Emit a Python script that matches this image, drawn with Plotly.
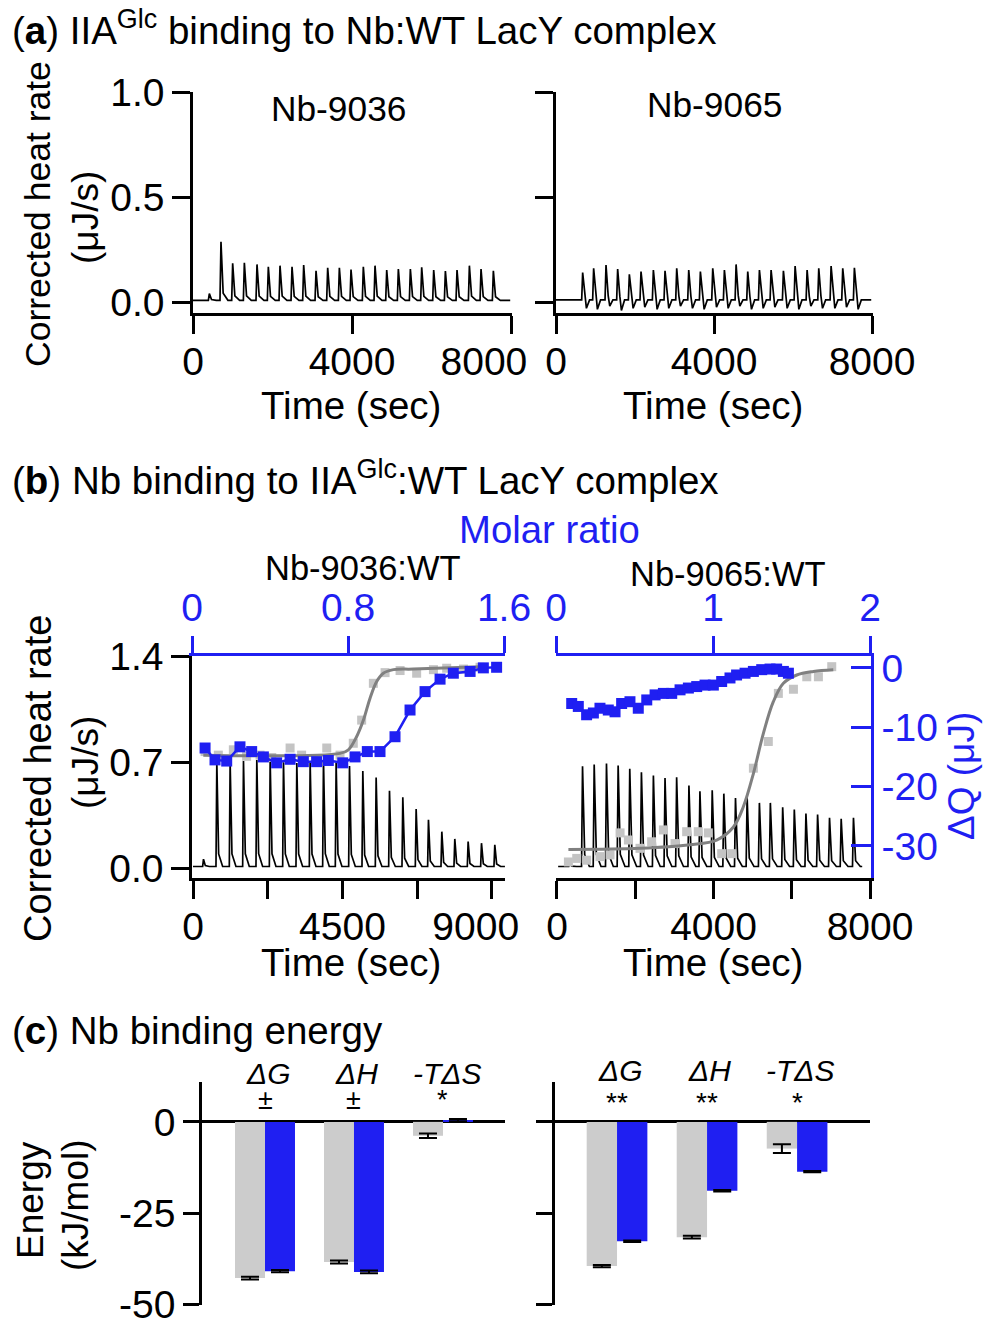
import plotly.graph_objects as go

W, H = 984, 1321
def px(x): return x / W
def py(y): return 1 - y / H

BLUE = '#1f1ff2'
GRAY_BAR = '#cccccc'
GRAY_PT = '#c4c4c4'
GRAY_FIT = '#808080'
FONT = 'Arial, "Liberation Sans", Helvetica, sans-serif'
TICK = 39
NB = '\u00a0'

# ---------------- Panel (a): IIAGlc into Nb:WT LacY ----------------
a1_times = [386, 679, 973, 1267, 1585, 1870, 2164, 2466, 2759, 3070, 3363, 3657, 3950,
            4260, 4554, 4848, 5141, 5443, 5728, 6030, 6324, 6617, 6928, 7221, 7531]
a1_peaks = [0.04, 0.287, 0.184, 0.187, 0.179, 0.168, 0.173, 0.168, 0.176, 0.149, 0.163, 0.163,
            0.155, 0.168, 0.173, 0.152, 0.157, 0.157, 0.165, 0.152, 0.147, 0.152, 0.173, 0.157, 0.149]
a1_base = 0.008

a2_times = [650, 928, 1241, 1536, 1832, 2127, 2440, 2735, 3031, 3335, 3630, 3943, 4238,
            4534, 4829, 5125, 5420, 5732, 6028, 6332, 6627, 6939, 7234, 7529]
a2_peaks = [0.140, 0.160, 0.176, 0.157, 0.132, 0.145, 0.152, 0.149, 0.160, 0.152, 0.145, 0.160,
            0.152, 0.179, 0.145, 0.152, 0.152, 0.149, 0.171, 0.152, 0.160, 0.171, 0.160, 0.163]
a2_dips = [-0.03, -0.035, -0.02, -0.04, -0.03, -0.025, -0.035, -0.03, -0.02, -0.03, -0.035, -0.025,
           -0.03, -0.02, -0.035, -0.03, -0.025, -0.03, -0.035, -0.02, -0.03, -0.03, -0.025, -0.035]
a2_base = 0.01

# ---------------- Panel (b): Nb into IIAGlc:WT LacY ----------------
b1_times = [291, 692, 1093, 1495, 1896, 2298, 2699, 3100, 3502, 3903, 4284, 4686, 5087,
            5488, 5890, 6291, 6692, 7063, 7465, 7856, 8257, 8659, 9060]
b1_peaks = [0.058, 0.699, 0.699, 0.706, 0.713, 0.706, 0.699, 0.694, 0.694, 0.713, 0.694, 0.673,
            0.640, 0.597, 0.510, 0.467, 0.390, 0.319, 0.240, 0.192, 0.175, 0.164, 0.153]
b1_base = 0.01

b2_times = [300, 628, 926, 1240, 1538, 1835, 2133, 2439, 2736, 3033, 3347, 3628, 3942, 4239,
            4537, 4834, 5148, 5428, 5743, 6040, 6337, 6635, 6940, 7238, 7552]
b2_peaks = [0.03, 0.672, 0.683, 0.690, 0.677, 0.655, 0.633, 0.611, 0.595, 0.600, 0.544, 0.507,
            0.513, 0.491, 0.462, 0.470, 0.430, 0.430, 0.401, 0.386, 0.359, 0.353, 0.331, 0.325, 0.331]
b2_base = 0.01

# molar ratio / integrated heat (uJ)
b1_mr_blue = [0.067, 0.118, 0.178, 0.246, 0.306, 0.366, 0.434, 0.503, 0.571, 0.639, 0.699, 0.773,
              0.836, 0.899, 0.964, 1.041, 1.118, 1.195, 1.272, 1.340, 1.426, 1.494, 1.562]
b1_dq_blue = [-13.5, -15.5, -15.7, -13.3, -14.1, -15.0, -16.0, -15.4, -15.8, -15.8, -15.6, -16.0,
              -15.0, -14.1, -14.1, -11.6, -7.1, -4.0, -1.9, -0.9, -0.6, 0.0, 0.1]
b1_mr_gray = [0.067, 0.135, 0.212, 0.280, 0.349, 0.409, 0.503, 0.562, 0.691, 0.759, 0.827, 0.870,
              0.930, 0.990, 1.067, 1.152, 1.238, 1.306, 1.392, 1.477]
b1_dq_gray = [-14.1, -14.7, -13.8, -14.9, -14.7, -15.1, -13.5, -14.7, -13.5, -14.7, -12.7, -8.8,
              -2.6, -0.8, -0.45, -0.9, -0.3, -0.06, -0.2, 0.1]
b1_mr_fit = [0.058, 0.759, 0.802, 0.844, 0.879, 0.913, 0.947, 0.981, 1.033, 1.135, 1.477]
b1_dq_fit = [-14.7, -14.4, -13.8, -11.6, -8.8, -5.1, -2.3, -0.9, -0.3, -0.2, 0.2]

b2_mr_blue = [0.100, 0.142, 0.195, 0.238, 0.280, 0.333, 0.376, 0.418, 0.471, 0.524, 0.578, 0.631,
              0.684, 0.737, 0.790, 0.843, 0.896, 0.949, 1.002, 1.055, 1.108, 1.150, 1.204, 1.257,
              1.310, 1.363, 1.405, 1.448, 1.480]
b2_dq_blue = [-6.0, -6.5, -7.9, -7.6, -6.8, -7.1, -7.4, -6.0, -5.7, -6.8, -5.4, -4.55, -4.3, -4.3,
              -3.7, -3.4, -3.15, -2.9, -2.9, -2.3, -1.7, -1.2, -0.9, -0.6, -0.3, -0.2, -0.2, -0.6, -0.9]
b2_mr_gray = [0.079, 0.132, 0.195, 0.280, 0.344, 0.408, 0.461, 0.535, 0.609, 0.684, 0.758, 0.832,
              0.906, 0.970, 1.055, 1.119, 1.257, 1.352, 1.416, 1.512, 1.597, 1.671, 1.756]
b2_dq_gray = [-32.7, -32.1, -32.4, -31.8, -31.5, -27.8, -29.0, -30.4, -29.3, -27.3, -29.6, -27.6,
              -27.6, -27.8, -31.3, -31.3, -16.9, -12.4, -4.3, -3.6, -1.5, -1.5, 0.2]
b2_mr_fit = [0.079, 0.535, 0.853, 1.023, 1.130, 1.193, 1.257, 1.321, 1.384, 1.448, 1.533, 1.639, 1.766]
b2_dq_fit = [-30.6, -30.4, -29.8, -29.0, -26.8, -23.4, -17.8, -11.0, -5.7, -2.6, -1.2, -0.6, -0.3]

# ---------------- Panel (c): energies (kJ/mol) ----------------
c_terms = ['ΔG', 'ΔH', '-TΔS']
c1_gray = [-42.7, -38.3, -3.8]
c1_gray_err = [0.4, 0.4, 0.6]
c1_blue = [-40.8, -41.0, 0.5]
c1_blue_err = [0.3, 0.4, 0.3]
c1_sig = ['±', '±', '*']
c2_gray = [-39.4, -31.5, -7.3]
c2_gray_err = [0.3, 0.4, 1.2]
c2_blue = [-32.6, -18.8, -13.6]
c2_blue_err = [0.2, 0.2, 0.2]
c2_sig = ['**', '**', '*']


def itc_trace(times, peaks, base, t0, t1, dips=None):
    xs, ys = [t0], [base]
    for i, (t, p) in enumerate(zip(times, peaks)):
        xs += [t, t + 25, t + 80]
        ys += [base, p, base + 0.12 * (p - base)]
        if dips:
            xs.append(t + 120); ys.append(dips[i])
        xs.append(t + 200); ys.append(base)
    xs.append(t1); ys.append(base)
    return xs, ys


fig = go.Figure()
line_k = dict(color='black', width=1.7)

x, y = itc_trace(a1_times, a1_peaks, a1_base, 0, 7980)
fig.add_trace(go.Scatter(x=x, y=y, mode='lines', line=line_k, xaxis='x', yaxis='y'))
x, y = itc_trace(a2_times, a2_peaks, a2_base, 0, 7980, a2_dips)
fig.add_trace(go.Scatter(x=x, y=y, mode='lines', line=line_k, xaxis='x2', yaxis='y2'))
x, y = itc_trace(b1_times, b1_peaks, b1_base, 0, 9390)
fig.add_trace(go.Scatter(x=x, y=y, mode='lines', line=line_k, xaxis='x3', yaxis='y3'))
x, y = itc_trace(b2_times, b2_peaks, b2_base, 30, 7800)
fig.add_trace(go.Scatter(x=x, y=y, mode='lines', line=line_k, xaxis='x5', yaxis='y5'))

mk_gray = dict(symbol='square', size=9, color=GRAY_PT)
mk_blue = dict(symbol='square', size=11, color=BLUE)
# left (b)
fig.add_trace(go.Scatter(x=b1_mr_gray, y=b1_dq_gray, mode='markers', marker=mk_gray, xaxis='x4', yaxis='y4'))
fig.add_trace(go.Scatter(x=b1_mr_fit, y=b1_dq_fit, mode='lines', line=dict(color=GRAY_FIT, width=3, shape='spline'), xaxis='x4', yaxis='y4'))
fig.add_trace(go.Scatter(x=b1_mr_blue, y=b1_dq_blue, mode='lines+markers', marker=mk_blue, line=dict(color=BLUE, width=2.5), xaxis='x4', yaxis='y4'))
# right (b)
fig.add_trace(go.Scatter(x=b2_mr_gray, y=b2_dq_gray, mode='markers', marker=mk_gray, xaxis='x6', yaxis='y6'))
fig.add_trace(go.Scatter(x=b2_mr_fit, y=b2_dq_fit, mode='lines', line=dict(color=GRAY_FIT, width=3, shape='spline'), xaxis='x6', yaxis='y6'))
fig.add_trace(go.Scatter(x=b2_mr_blue, y=b2_dq_blue, mode='lines+markers', marker=mk_blue, line=dict(color=BLUE, width=2.5), xaxis='x6', yaxis='y6'))

# bars (c)
pos = list(range(len(c_terms)))
err = lambda a: dict(type='data', array=a, color='black', thickness=2, width=9)
fig.add_trace(go.Bar(x=pos, y=c1_gray, marker=dict(color=GRAY_BAR, line=dict(width=0)), error_y=err(c1_gray_err), xaxis='x7', yaxis='y7'))
fig.add_trace(go.Bar(x=pos, y=c1_blue, marker=dict(color=BLUE, line=dict(width=0)), error_y=err(c1_blue_err), xaxis='x7', yaxis='y7'))
fig.add_trace(go.Bar(x=pos, y=c2_gray, marker=dict(color=GRAY_BAR, line=dict(width=0)), error_y=err(c2_gray_err), xaxis='x8', yaxis='y8'))
fig.add_trace(go.Bar(x=pos, y=c2_blue, marker=dict(color=BLUE, line=dict(width=0)), error_y=err(c2_blue_err), xaxis='x8', yaxis='y8'))

base_ax = dict(showline=True, linecolor='black', linewidth=2.5, ticks='outside', ticklen=18,
               tickwidth=2.5, tickcolor='black', showgrid=False, zeroline=False, automargin=False,
               ticklabeloverflow='allow',
               tickfont=dict(size=TICK, color='black', family=FONT))
xb_ax = dict(base_ax, ticklabelstandoff=-6)
blue_ax = dict(base_ax, linecolor=BLUE, tickcolor=BLUE, tickfont=dict(size=TICK, color=BLUE, family=FONT))
minor_k = lambda vals: dict(tickmode='array', tickvals=vals, ticks='outside', ticklen=18,
                            tickwidth=2.5, tickcolor='black', showgrid=False)

ya_dom = [py(313), py(92)]
yb_dom = [py(878), py(656)]
yc_dom = [py(1305), py(1082)]

layout = dict(
    width=W, height=H, autosize=False, showlegend=False,
    margin=dict(l=0, r=0, t=0, b=0, autoexpand=False), paper_bgcolor='white', plot_bgcolor='rgba(0,0,0,0)',
    font=dict(family=FONT, color='black'),
    barmode='group', bargap=0.326, bargroupgap=0,
    xaxis=dict(xb_ax, domain=[px(193), px(512)], range=[0, 8025], anchor='y',
               tickvals=[0, 4000, 8000], ticktext=['0', '4000', '8000' + NB * 5]),
    yaxis=dict(base_ax, domain=ya_dom, range=[-0.0524, 1.0], anchor='x',
               tickvals=[0, 0.5, 1.0], ticktext=['0.0', '0.5', '1.0']),
    xaxis2=dict(xb_ax, domain=[px(556), px(873)], range=[0, 8025], anchor='y2',
                tickvals=[0, 4000, 8000], ticktext=['0', '4000', '8000']),
    yaxis2=dict(base_ax, domain=ya_dom, range=[-0.0524, 1.0], anchor='x2',
                tickvals=[0, 0.5, 1.0], showticklabels=False),
    xaxis3=dict(xb_ax, domain=[px(192), px(505)], range=[-30, 9392], anchor='y3',
                tickvals=[0, 4500, 9000], ticktext=['0', '4500', '9000' + NB * 3],
                minor=minor_k([2250, 6750])),
    yaxis3=dict(base_ax, domain=yb_dom, range=[-0.066, 1.4], anchor='x3',
                tickvals=[0, 0.7, 1.4], ticktext=['0.0', '0.7', '1.4']),
    xaxis4=dict(blue_ax, overlaying='x3', side='top', anchor='y3', range=[0, 1.605],
                ticklen=17, tickvals=[0, 0.8, 1.6], ticktext=['0', '0.8', '1.6']),
    yaxis4=dict(overlaying='y3', anchor='x3', side='right', range=[-35.4, 2.0], visible=False),
    xaxis5=dict(xb_ax, domain=[px(556), px(871)], range=[-25, 8025], anchor='y5',
                tickvals=[0, 4000, 8000], ticktext=['0', '4000', '8000'],
                minor=minor_k([2000, 6000])),
    yaxis5=dict(domain=yb_dom, range=[-0.066, 1.4], anchor='x5', visible=False),
    xaxis6=dict(blue_ax, overlaying='x5', side='top', anchor='y5', range=[0, 2.006],
                ticklen=17, tickvals=[0, 1, 2], ticktext=['0', '1', '2']),
    yaxis6=dict(blue_ax, overlaying='y5', side='right', anchor='x5', range=[-35.4, 2.0],
                ticks='inside', ticklen=20, tickvals=[0, -10, -20, -30],
                ticktext=['0', '-10', '-20', '-30']),
    xaxis7=dict(domain=[px(202), px(505)], range=[-0.708, 2.697], anchor='y7', visible=False),
    yaxis7=dict(base_ax, domain=yc_dom, range=[-50.05, 10.9], anchor='x7', ticklen=16,
                tickvals=[0, -25, -50], ticktext=['0', '-25', '-50'],
                zeroline=True, zerolinecolor='black', zerolinewidth=2.5),
    xaxis8=dict(domain=[px(555), px(870)], range=[-0.689, 2.81], anchor='y8', visible=False),
    yaxis8=dict(base_ax, domain=yc_dom, range=[-50.05, 10.9], anchor='x8', ticklen=16,
                tickvals=[0, -25, -50], showticklabels=False,
                zeroline=True, zerolinecolor='black', zerolinewidth=2.5),
)
fig.update_layout(**layout)

ann = []
def A(text, x, y, size=38.5, color='black', angle=0, xanchor='center', yanchor='middle', xref='paper'):
    ann.append(dict(text=text, x=x, y=y, xref=xref, yref='paper', showarrow=False,
                    textangle=angle, xanchor=xanchor, yanchor=yanchor,
                    font=dict(size=size, color=color, family=FONT)))

A('(<b>a</b>) IIA<sup>Glc</sup> binding to Nb:WT LacY complex', px(10), py(28), xanchor='left')
A('(<b>b</b>) Nb binding to IIA<sup>Glc</sup>:WT LacY complex', px(10), py(478), xanchor='left')
A('(<b>c</b>) Nb binding energy', px(10), py(1030), xanchor='left')

A('Nb-9036', px(338), py(108), size=35.3)
A('Nb-9065', px(714), py(104), size=35.3)
A('Time (sec)', px(351), py(405))
A('Time (sec)', px(713), py(405))
A('Corrected heat rate', px(38), py(214), size=35.5, angle=-90)
A('(μJ/s)', px(85), py(218), size=37, angle=-90)

A('Molar ratio', px(549), py(530), color=BLUE, size=38.3)
A('Nb-9036:WT', px(363), py(568), size=34.5)
A('Nb-9065:WT', px(728), py(574), size=34.5)
A('Time (sec)', px(351), py(962))
A('Time (sec)', px(713), py(962))
A('Corrected heat rate', px(38), py(779), size=38, angle=-90)
A('(μJ/s)', px(85), py(763), size=37, angle=-90)
A('ΔQ (μJ)', px(962), py(776), color=BLUE, size=37, angle=-90)

A('Energy', px(30), py(1200), size=37, angle=-90)
A('(kJ/mol)', px(75), py(1205), size=37, angle=-90)

for i, t in enumerate(c_terms):
    A('<i>%s</i>' % t, pos[i] + (0.03 if i < 2 else 0.05), py(1073), size=30, xref='x7')
    A(c1_sig[i], pos[i], py(1100), size=27, xref='x7')
    A('<i>%s</i>' % t, pos[i] + 0.03, py(1070), size=30, xref='x8')
    A(c2_sig[i], pos[i], py(1102), size=28, xref='x8')

fig.update_layout(annotations=ann)
fig.write_html('out.html', config={'displayModeBar': False},
               post_script="document.body.style.margin='0';")
